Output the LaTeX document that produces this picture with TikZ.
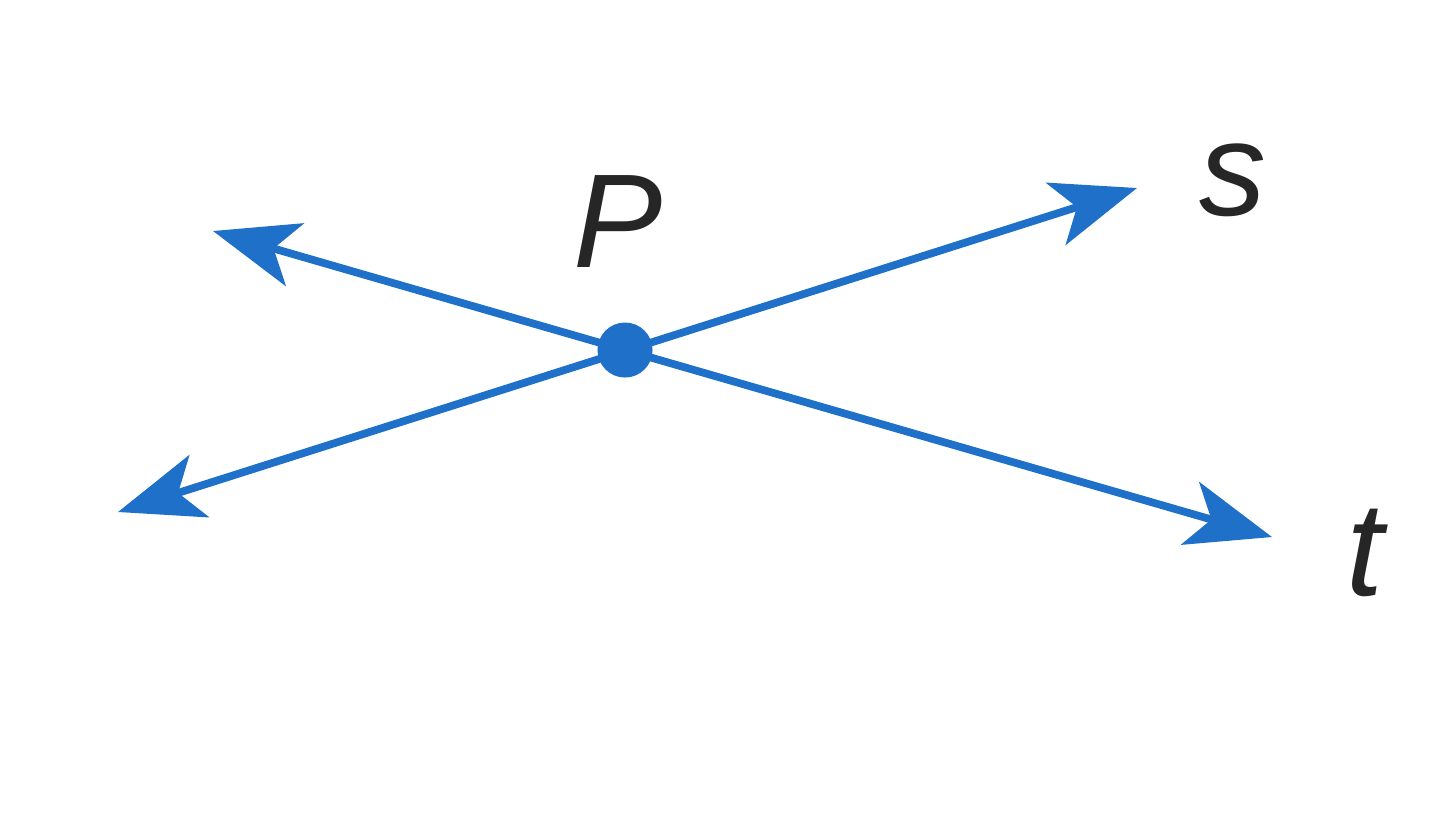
\documentclass[tikz,border=0pt]{standalone}
\usepackage{fontspec}
\setmainfont{Liberation Sans}
\usetikzlibrary{arrows.meta}
\definecolor{lineblue}{RGB}{30,112,200}
\tikzset{
  tip/.tip={Stealth[length=0.85cm,width=0.65cm,inset=0.22cm]},
  ln/.style={draw=lineblue, line width=2.2pt, tip-tip},
  lbl/.style={font=\itshape\fontsize{38}{38}\selectfont, text=black!85, inner sep=0pt}
}
\begin{document}
\begin{tikzpicture}[x=0.01cm,y=-0.01cm]
\useasboundingbox (0,0) rectangle (1440,820);
\coordinate (s1) at (118,512);
\coordinate (s2) at (1137,188);
\coordinate (t1) at (213,231);
\coordinate (t2) at (1272,537);
\path[ln] (s1) -- (s2);
\path[ln] (t1) -- (t2);
\node[circle, fill=lineblue, minimum size=0.55cm, inner sep=0pt] (P) at (625,350) {};
\node[lbl] (lp) at (618,222) {P};
\node[lbl] (ls) at (1233,180) {s};
\node[lbl] (lt) at (1365,553) {t};
\end{tikzpicture}
\end{document}
